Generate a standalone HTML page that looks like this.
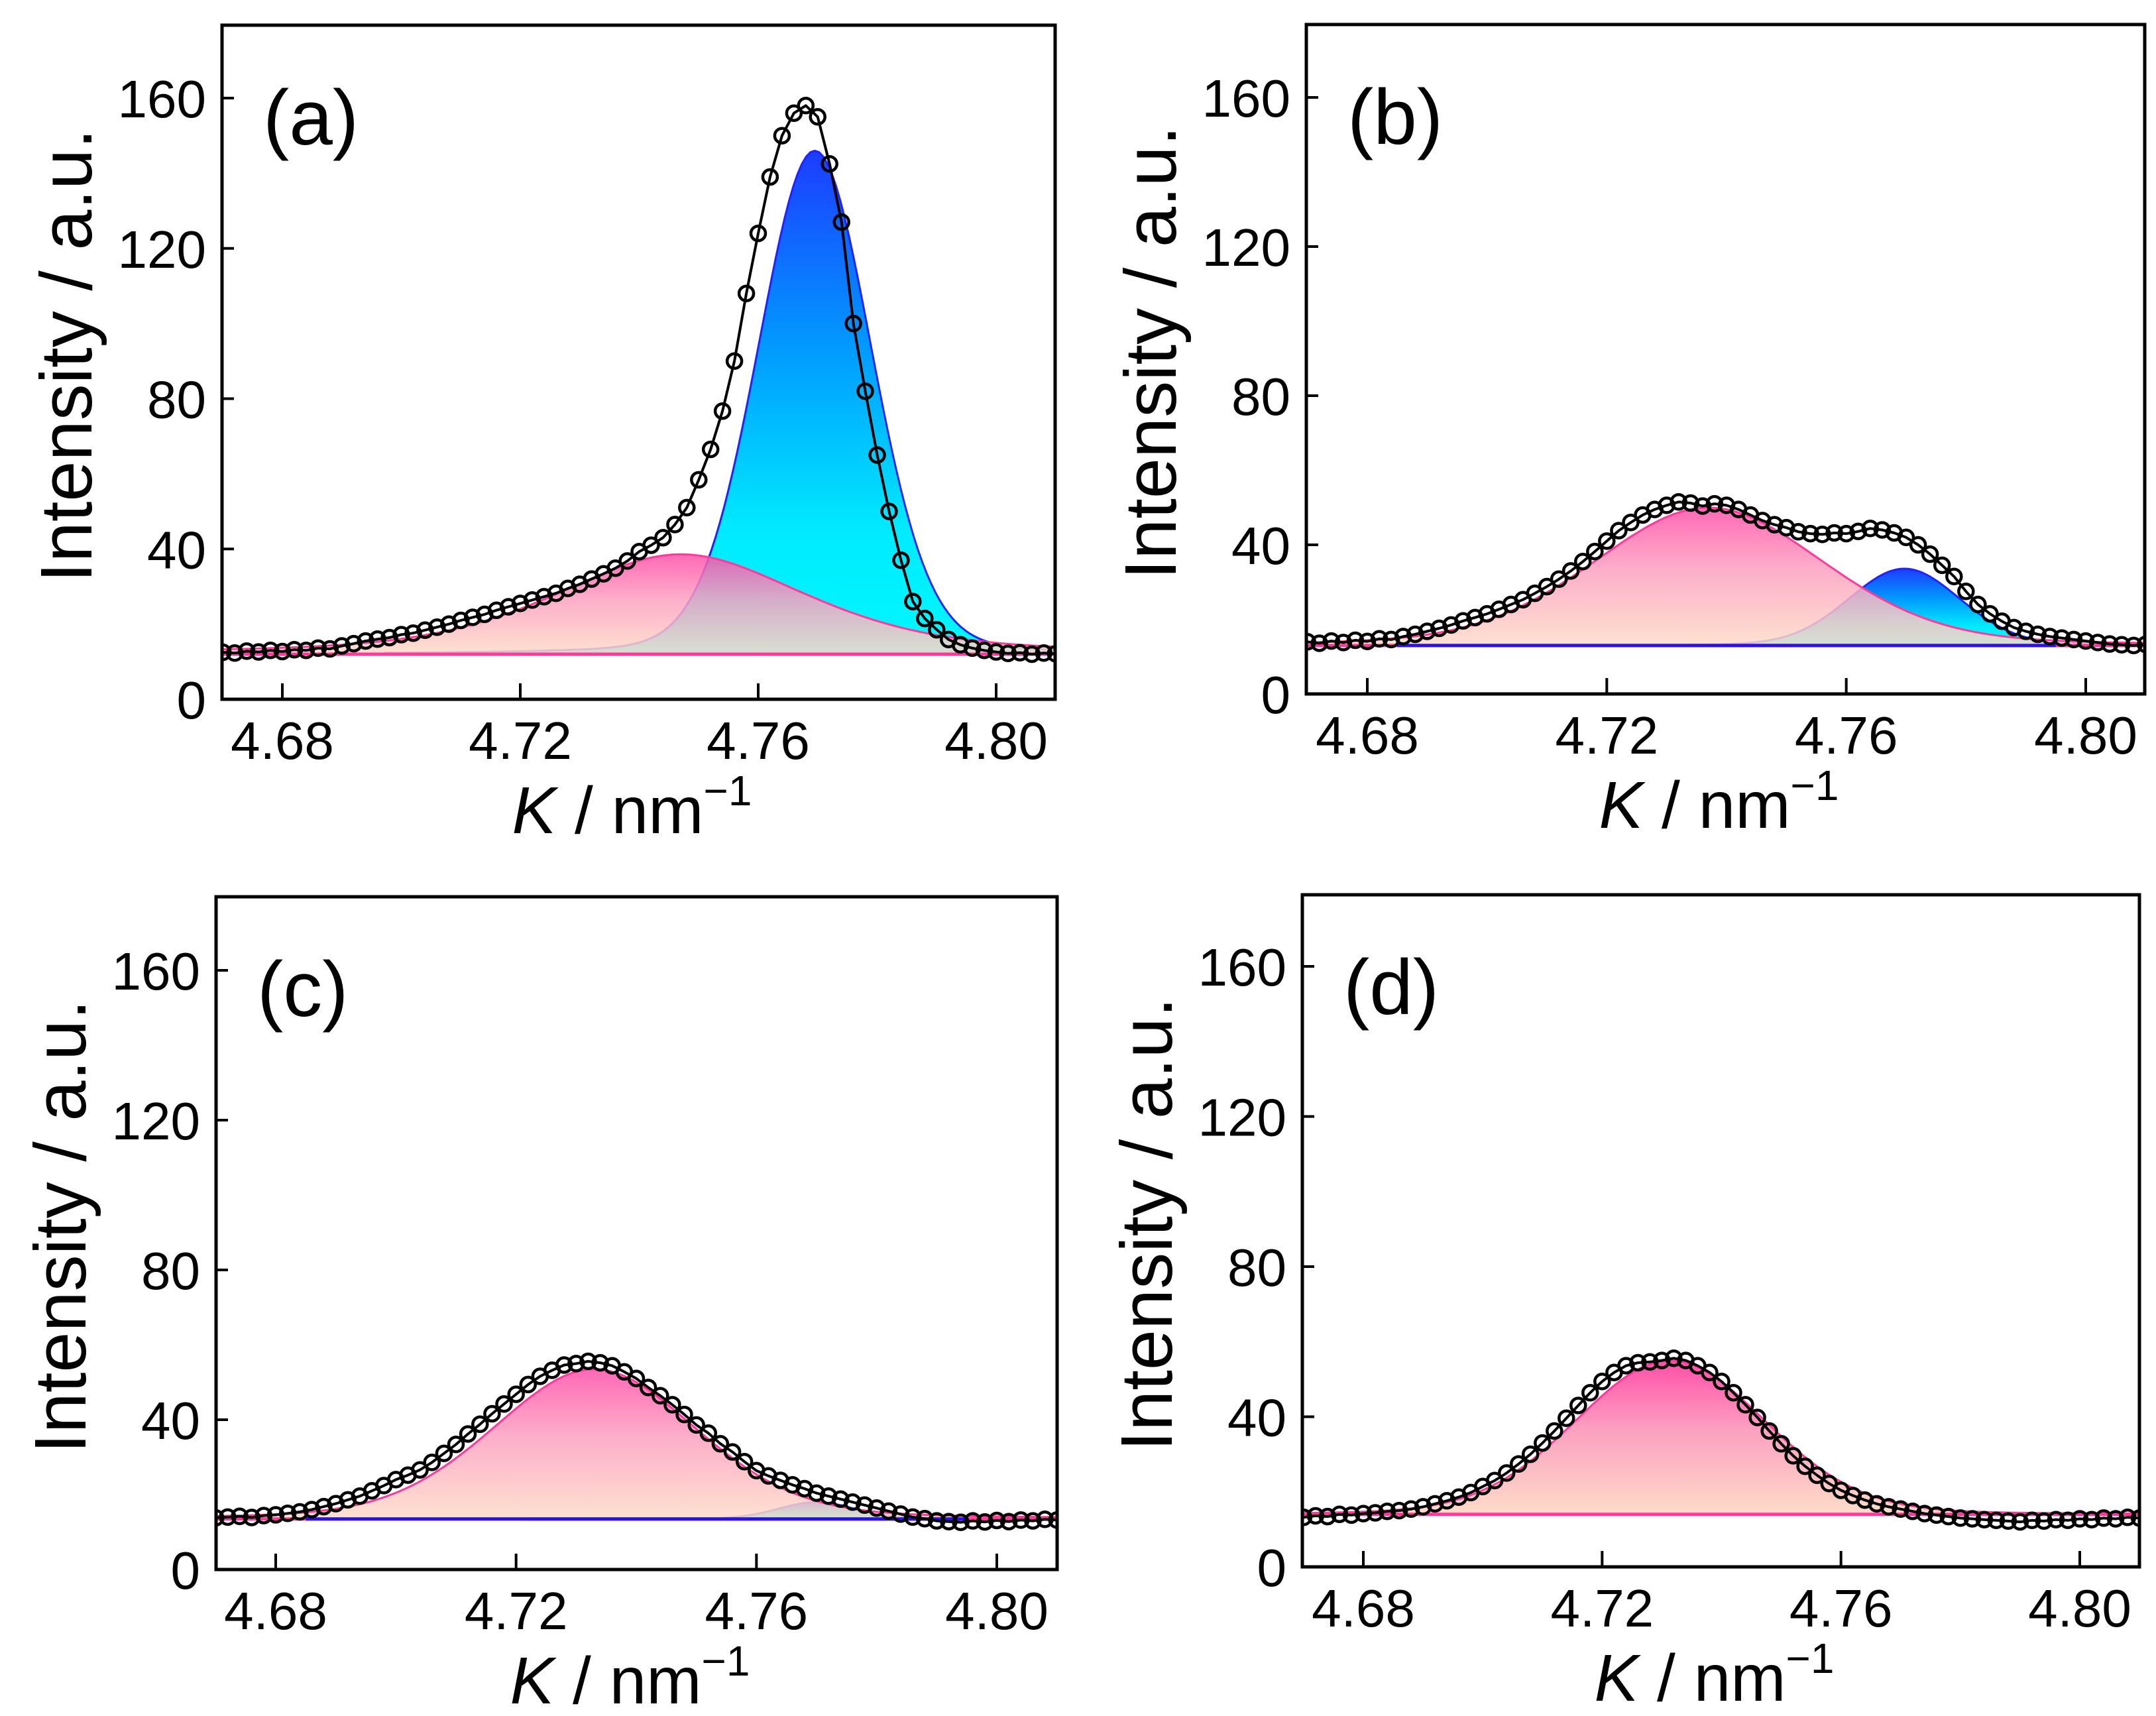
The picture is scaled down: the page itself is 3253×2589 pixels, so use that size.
<!DOCTYPE html>
<html><head><meta charset="utf-8">
<style>
html,body{margin:0;padding:0;background:#fff;}
svg{display:block;}
text{font-family:"Liberation Sans",Arial,sans-serif;fill:#000;}
</style></head>
<body>
<svg id="fig" width="3253" height="2589" viewBox="0 0 3253 2589" xmlns="http://www.w3.org/2000/svg">
<defs>
<linearGradient id="gPink" x1="0" y1="0" x2="0" y2="1">
<stop offset="0" stop-color="#ff4fa8"/><stop offset="0.45" stop-color="#fca0c0"/><stop offset="1" stop-color="#fddcc8"/>
</linearGradient>
<linearGradient id="gBlue" x1="0" y1="0" x2="0" y2="1">
<stop offset="0" stop-color="#1c3cff"/><stop offset="0.4" stop-color="#009cff"/><stop offset="0.75" stop-color="#00eaff"/><stop offset="1" stop-color="#00f8ff"/>
</linearGradient>
</defs>
</svg>
<script>
const kValues = [4.670,4.672,4.674,4.676,4.678,4.680,4.682,4.684,4.686,4.688,4.690,4.692,4.694,4.696,4.698,4.700,4.702,4.704,4.706,4.708,4.710,4.712,4.714,4.716,4.718,4.720,4.722,4.724,4.726,4.728,4.730,4.732,4.734,4.736,4.738,4.740,4.742,4.744,4.746,4.748,4.750,4.752,4.754,4.756,4.758,4.760,4.762,4.764,4.766,4.768,4.770,4.772,4.774,4.776,4.778,4.780,4.782,4.784,4.786,4.788,4.790,4.792,4.794,4.796,4.798,4.800,4.802,4.804,4.806,4.808,4.810];
const dataA = [12.5,12.3,12.8,12.6,13.0,12.7,13.2,13.0,13.6,13.4,14.2,14.8,15.5,16.0,16.4,17.2,17.6,18.4,19.2,20.0,21.0,21.8,22.6,23.7,24.6,25.5,26.4,27.3,28.2,29.5,30.6,32.0,33.4,34.9,36.8,39.3,41.0,43.0,46.5,51.0,58.4,66.5,76.7,90.0,108,124,139,150,156,158,155,142.5,127,100,82,65,50,37,26,21.5,18.5,15.9,14.5,13.6,13.0,12.6,12.2,12.4,12.0,12.3,12.1];
const dataB = [14.0,13.6,14.2,13.8,14.4,14.1,14.8,14.6,15.4,16.0,16.8,17.6,18.5,19.6,20.5,21.5,22.7,24.0,25.3,27.0,28.8,30.8,33.0,35.5,38.2,41.0,43.8,46.0,48.0,49.5,50.6,51.5,51.2,50.4,51.0,50.6,49.5,48.0,46.5,45.4,44.6,43.5,43.0,42.8,43.2,43.0,43.6,44.4,44.0,43.2,42.0,40.0,37.5,34.5,31.5,27.5,24.0,21.5,19.5,17.8,16.8,16.0,15.4,15.0,14.6,14.2,13.8,13.4,13.2,13.0,13.3];
const dataC = [13.8,14.0,14.2,13.9,14.4,14.6,15.0,15.4,16.0,16.8,17.6,18.6,19.6,21.0,22.4,24.0,25.2,26.6,28.6,31.0,33.4,36.2,38.8,41.6,44.2,46.8,49.4,51.6,53.2,54.6,55.0,55.6,55.2,54.4,52.8,51.0,48.6,46.4,44.0,41.4,38.6,36.4,33.6,31.4,28.8,26.4,25.0,23.8,22.6,21.6,20.4,19.6,18.8,18.0,17.2,16.4,15.6,14.8,14.0,13.6,13.0,12.8,12.6,13.0,12.7,13.1,12.8,13.2,13.0,13.4,13.2];
const dataD = [13.2,13.6,13.4,14.0,13.8,14.2,14.4,14.8,15.0,15.4,16.0,16.8,17.6,18.6,19.8,21.4,23.0,25.0,27.4,30.0,33.0,36.2,39.6,43.0,46.4,49.4,51.8,53.6,54.4,54.6,55.0,55.6,55.0,53.6,51.8,49.4,46.4,43.2,39.8,36.2,32.8,29.6,26.8,24.4,22.2,20.4,19.0,17.8,16.8,16.0,15.4,14.8,14.2,13.8,13.4,13.0,12.8,12.6,12.4,12.2,12.0,12.4,12.2,12.6,12.4,12.8,12.6,13.0,12.8,13.2,13.0];
// fitted components: [center, amplitude, fwhm, lorentz fraction]
const baseA = 12, pinkA = [4.747, 26.6, 0.050, 0.5], blueA = [4.7695, 134, 0.0226, 0.12];
const baseB = 13, pinkB = [4.737, 37, 0.0455, 0.2], blueB = [4.7697, 20.6, 0.022, 0.1];
const baseC = 13.5, pinkC = [4.733, 40, 0.040, 0.2], blueC = [4.770, 4.5, 0.015, 0.1];
const baseD = 14, pinkD = [4.7314, 41, 0.0376, 0.1];
const xTicks = [4.68, 4.72, 4.76, 4.80];
const xTickLabels = ["4.68", "4.72", "4.76", "4.80"];
const yTicks = [0, 40, 80, 120, 160];
const yTickLabels = ["0", "40", "80", "120", "160"];

const NS = "http://www.w3.org/2000/svg";
const svg = document.getElementById("fig");
function mk(tag, attrs, parent) {
  const e = document.createElementNS(NS, tag);
  for (const k in attrs) e.setAttribute(k, attrs[k]);
  (parent || svg).appendChild(e);
  return e;
}
function pv(x, p) {
  const t = (x - p[0]) / (p[2] / 2);
  const L = 1 / (1 + t * t), G = Math.exp(-Math.LN2 * t * t);
  return p[1] * (p[3] * L + (1 - p[3]) * G);
}
const panels = [
  {id: "a", L: 335, R: 1592, T: 38, B: 1055, x68: 426, x80: 1503, y0: 1055, y160: 148, data: dataA, base: baseA, pink: pinkA, blue: blueA},
  {id: "b", L: 1971, R: 3236, T: 37, B: 1047, x68: 2063, x80: 3147, y0: 1047, y160: 147, data: dataB, base: baseB, pink: pinkB, blue: blueB},
  {id: "c", L: 326, R: 1595, T: 1353, B: 2368, x68: 416, x80: 1504, y0: 2368, y160: 1464, data: dataC, base: baseC, pink: pinkC, blue: blueC},
  {id: "d", L: 1965, R: 3228, T: 1350, B: 2364, x68: 2057, x80: 3138, y0: 2364, y160: 1458, data: dataD, base: baseD, pink: pinkD, blue: null}
];
panels.forEach(P => {
  const g = mk("g", {});
  
  
  const sx = k => P.x68 + (k - 4.68) / 0.12 * (P.x80 - P.x68);
  const sy = v => P.y0 - v / 160 * (P.y0 - P.y160);
  const clipId = "clip" + P.id;
  const cp = mk("clipPath", {id: clipId}, g);
  mk("rect", {x: P.L, y: P.T, width: P.R - P.L, height: P.B - P.T}, cp);
  const plot = mk("g", {"clip-path": "url(#" + clipId + ")"}, g);
  function comp(p, fill, stroke, name, opacity, fullBase) {
    const lo = p[0] - p[2] * 3.2, hi = p[0] + p[2] * 3.2;
    let d = "M" + sx(lo).toFixed(1) + "," + sy(P.base).toFixed(1);
    let line = "";
    for (let i = 0; i <= 200; i++) {
      const k = lo + (hi - lo) * i / 200;
      const X = sx(k).toFixed(1), Y = sy(P.base + pv(k, p)).toFixed(1);
      d += " L" + X + "," + Y;
      line += (i ? " L" : "M") + X + "," + Y;
    }
    d += " L" + sx(hi).toFixed(1) + "," + sy(P.base).toFixed(1) + " Z";
    const f = mk("path", {d: d, fill: fill, "fill-opacity": opacity, stroke: "none"}, plot);
    
    
    const l = mk("path", {d: line, fill: "none", stroke: stroke, "stroke-width": 3}, plot);
    
    
    const x1 = fullBase ? sx(4.685) : sx(lo), x2 = fullBase ? sx(4.795) : sx(hi);
    const bl = mk("line", {x1: x1, x2: x2, y1: sy(P.base), y2: sy(P.base), stroke: stroke, "stroke-width": 5}, plot);
    
    
  }
  if (P.blue) comp(P.blue, "url(#gBlue)", "#2222ff", "blue-component", 1, false);
  comp(P.pink, "url(#gPink)", "#ff3a9a", "pink-component", P.blue ? 0.85 : 1, false);
  if (P.blue && P.id !== "a") {
    const bb = mk("line", {x1: sx(4.685), x2: sx(4.795), y1: sy(P.base), y2: sy(P.base), stroke: "#2a10ee", "stroke-width": 5}, plot);
    
    
  }
  let fd = "";
  P.data.forEach((v, i) => { fd += (i ? " L" : "M") + sx(kValues[i]).toFixed(1) + "," + sy(v).toFixed(1); });
  const fit = mk("path", {d: fd, fill: "none", stroke: "#000", "stroke-width": 4, "stroke-linejoin": "round"}, plot);
  
  
  P.data.forEach((v, i) => {
    const c = mk("circle", {cx: sx(kValues[i]).toFixed(1), cy: sy(v).toFixed(1), r: 11, fill: "none", stroke: "#000", "stroke-width": 4.5}, plot);
    
    
  });
  const fr = mk("rect", {x: P.L, y: P.T, width: P.R - P.L, height: P.B - P.T, fill: "none", stroke: "#000", "stroke-width": 5}, g);
  
  
  xTicks.forEach((t, i) => {
    const X = sx(t);
    const tk = mk("line", {x1: X, x2: X, y1: P.B, y2: P.B - 24, stroke: "#000", "stroke-width": 4}, g);
    
    
    const tl = mk("text", {x: X, y: P.B + 90, "font-size": 80, "text-anchor": "middle"}, g);
    tl.textContent = xTickLabels[i];
    
    
  });
  yTicks.forEach((t, i) => {
    const Y = sy(t);
    const tk = mk("line", {x1: P.L, x2: P.L + 18, y1: Y, y2: Y, stroke: "#000", "stroke-width": 4}, g);
    
    
    const tl = mk("text", {x: P.L - 24, y: Y + 29, "font-size": 80, "text-anchor": "end"}, g);
    tl.textContent = yTickLabels[i];
    
    
  });
  const yc = (P.T + P.B) / 2 - 10;
  const yt = mk("text", {x: P.L - 197, y: yc, "font-size": 110, "text-anchor": "middle", transform: "rotate(-90 " + (P.L - 197) + " " + yc + ")"}, g);
  yt.textContent = "Intensity / a.u.";
  
  
  const xt = mk("text", {x: (P.L + P.R) / 2 - 10, y: P.B + 202, "font-size": 100, "text-anchor": "middle"}, g);
  
  
  const t1 = mk("tspan", {"font-style": "italic"}, xt); t1.textContent = "K";
  const t2 = mk("tspan", {}, xt); t2.textContent = " / nm";
  const t3 = mk("tspan", {"font-size": 64, dy: -42}, xt); t3.textContent = "\u22121";
  const pl = mk("text", {x: P.L + 62, y: P.T + 180, "font-size": 118}, g);
  pl.textContent = "(" + P.id + ")";
  
  
});
</script>
</body></html>
